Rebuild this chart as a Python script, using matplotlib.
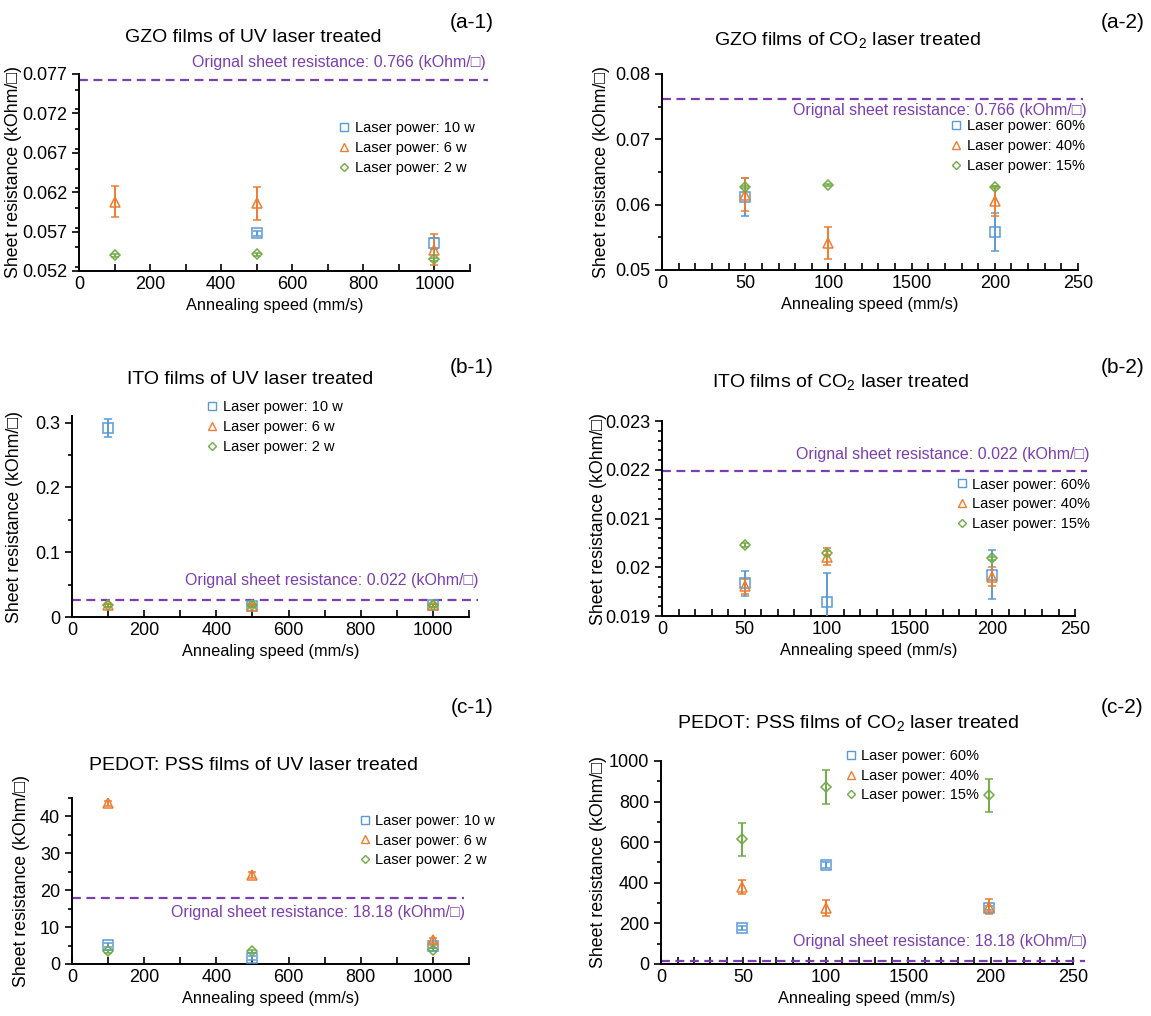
import numpy as np
import matplotlib
matplotlib.use('Agg')
import matplotlib.pyplot as plt
from matplotlib.ticker import MultipleLocator
from matplotlib.lines import Line2D

plt.rcParams['font.family'] = ['Liberation Sans', 'DejaVu Sans']
plt.rcParams['mathtext.fontset'] = 'custom'
plt.rcParams['mathtext.rm'] = 'Liberation Sans'
plt.rcParams['mathtext.it'] = 'Liberation Sans'

azul = '#5b9bd5'
naranja = '#ed7d31'
verde = '#70ad47'
morado = '#7b3fae'

# Datos de las velocidades
vel_uv = [100, 500, 1000]
vel_co2 = [50, 100, 200]
etiquetas_uv = ['Laser power: 10 w', 'Laser power: 6 w', 'Laser power: 2 w']
etiquetas_co2 = ['Laser power: 60%', 'Laser power: 40%', 'Laser power: 15%']
ticks_co2 = ['0', '50', '100', '1500', '200', '250']

# (a-1) GZO UV
gzo_uv_x = [[500, 1000], [100, 500, 1000], [100, 500, 1000]]
gzo_uv_y = [[0.0568, 0.0555], [0.0608, 0.0606, 0.0547], [0.0540, 0.0541, 0.0535]]
gzo_uv_e = [[0.0003, 0.0007], [0.0020, 0.0021, 0.0020], [0.0002, 0.0002, 0.0002]]
# (a-2) GZO CO2
gzo_co2_x = [[50, 200], [50, 100, 200], [50, 100, 200]]
gzo_co2_y = [[0.0611, 0.0558], [0.0615, 0.0541, 0.0605], [0.0627, 0.0630, 0.0627]]
gzo_co2_e = [[0.0029, 0.0029], [0.0025, 0.0024, 0.0023], [0.0002, 0.0002, 0.0002]]
# (b-1) ITO UV
ito_uv_x = [vel_uv, vel_uv, vel_uv]
ito_uv_y = [[0.292, 0.017, 0.018], [0.018, 0.017, 0.018], [0.018, 0.018, 0.018]]
ito_uv_e = [[0.014, 0.002, 0.002], [0.002, 0.002, 0.002], [0.002, 0.002, 0.002]]
# (b-2) ITO CO2
ito_co2_x = [vel_co2, vel_co2, vel_co2]
ito_co2_y = [[0.01967, 0.01929, 0.01985], [0.01961, 0.02022, 0.01981], [0.02045, 0.02030, 0.02018]]
ito_co2_e = [[0.00025, 0.0006, 0.0005], [0.00015, 0.00018, 0.00019], [0.00004, 0.00004, 0.00004]]
# (c-1) PEDOT:PSS UV
ped_uv_x = [vel_uv, vel_uv, vel_uv]
ped_uv_y = [[5.2, 1.6, 4.8], [43.6, 24.1, 6.4], [3.4, 3.4, 3.9]]
ped_uv_e = [[0.6, 0.6, 0.6], [0.7, 0.7, 0.7], [0.5, 0.5, 0.5]]
# (c-2) PEDOT:PSS CO2
ped_co2_x = [[49, 100, 199], [49, 100, 199], [49, 100, 199]]
ped_co2_y = [[177, 488, 278], [381, 275, 283], [614, 872, 831]]
ped_co2_e = [[8, 15, 10], [35, 38, 35], [82, 83, 82]]

# Resistencia original de cada película
r_gzo = 0.0762
r_ito = 0.0268
r_ito2 = 0.02197
r_ped = 17.9
r_ped2 = 13

fig = plt.figure(figsize=(11.51, 10.16), dpi=100)

colores = [azul, naranja, verde]
marcas = ['s', '^', 'D']
tam = [6.5, 6.5, 5]


def panel(pos, xs, ys, es, xlim, ylim, yticks, ylabels, ymin, ylab_x, co2=False):
    ax = fig.add_axes(pos)
    for i in range(3):
        ax.errorbar(xs[i], ys[i], yerr=es[i], fmt=marcas[i], mfc='none', mec=colores[i],
                    ms=tam[i], mew=1.1, ecolor=colores[i], elinewidth=1.4, capsize=3,
                    capthick=1.4, zorder=3)
    if co2:
        ax.set_xticks([0, 50, 100, 150, 200, 250])
        ax.set_xticklabels(ticks_co2)
        ax.xaxis.set_minor_locator(MultipleLocator(10))
    else:
        ax.set_xticks([0, 200, 400, 600, 800, 1000])
        ax.xaxis.set_minor_locator(MultipleLocator(100))
    ax.set_yticks(yticks)
    ax.set_yticklabels(ylabels)
    ax.yaxis.set_minor_locator(MultipleLocator(ymin))
    ax.set_xlim(xlim)
    ax.set_ylim(ylim)
    ax.spines['top'].set_visible(False)
    ax.spines['right'].set_visible(False)
    ax.spines['left'].set_linewidth(1.4)
    ax.spines['bottom'].set_linewidth(1.4)
    ax.tick_params(axis='x', which='both', direction='in', labelsize=13, width=1.2, length=5)
    ax.tick_params(axis='y', which='both', direction='out', labelsize=13, width=1.2)
    ax.tick_params(axis='y', which='major', length=5)
    ax.tick_params(axis='y', which='minor', length=3)
    ax.set_xlabel('Annealing speed (mm/s)', fontsize=11.8, labelpad=4)
    ax.set_ylabel('Sheet resistance (kOhm/□)', fontsize=12.8)
    ax.yaxis.set_label_coords(ylab_x, 0.5)
    return ax


def linea_original(ax, valor, xmax, texto, tx, ty):
    ax.axhline(valor, xmin=0, xmax=xmax, color=morado, ls=(0, (4, 2.5)), lw=1.6,
               clip_on=False, zorder=2)
    ax.text(tx, ty, texto, transform=ax.transAxes, ha='right', va='center',
            fontsize=11.5, color=morado)


def leyenda(ax, etiquetas, x, y):
    manijas = [Line2D([], [], ls='none', marker=marcas[i], mfc='none', mec=colores[i],
                      ms=tam[i] - 0.5, mew=1.0) for i in range(3)]
    ax.legend(manijas, etiquetas, loc='upper left', bbox_to_anchor=(x, y), frameon=False,
              fontsize=10.5, handletextpad=0.2, handlelength=1.0, labelspacing=0.4,
              borderaxespad=0, borderpad=0)


# (a-1)
ax = panel([0.0686, 0.7333, 0.3397, 0.1939], gzo_uv_x, gzo_uv_y, gzo_uv_e,
           (0, 1100), (0.052, 0.077), [0.052, 0.057, 0.062, 0.067, 0.072, 0.077],
           ['0.052', '0.057', '0.062', '0.067', '0.072', '0.077'], 0.0025, -0.146)
linea_original(ax, r_gzo, 1.045, 'Orignal sheet resistance: 0.766 (kOhm/□)', 1.04, 1.056)
leyenda(ax, etiquetas_uv, 0.66, 0.76)

# (a-2)
ax = panel([0.5752, 0.7343, 0.3614, 0.1929], gzo_co2_x, gzo_co2_y, gzo_co2_e,
           (0, 250), (0.05, 0.08), [0.05, 0.06, 0.07, 0.08],
           ['0.05', '0.06', '0.07', '0.08'], 0.005, -0.125, co2=True)
linea_original(ax, r_gzo, 1.012, 'Orignal sheet resistance: 0.766 (kOhm/□)', 1.02, 0.815)
leyenda(ax, etiquetas_co2, 0.69, 0.77)

# (b-1)
ax = panel([0.0626, 0.3927, 0.3449, 0.1978], ito_uv_x, ito_uv_y, ito_uv_e,
           (0, 1100), (0, 0.31), [0, 0.1, 0.2, 0.3], ['0', '0.1', '0.2', '0.3'], 0.05, -0.123)
linea_original(ax, r_ito, 1.023, 'Orignal sheet resistance: 0.022 (kOhm/□)', 1.025, 0.18)
leyenda(ax, etiquetas_uv, 0.335, 1.08)

# (b-2)
ax = panel([0.5752, 0.3937, 0.3588, 0.1919], ito_co2_x, ito_co2_y, ito_co2_e,
           (0, 250), (0.019, 0.023), [0.019, 0.020, 0.021, 0.022, 0.023],
           ['0.019', '0.02', '0.021', '0.022', '0.023'], 0.0002, -0.133, co2=True)
linea_original(ax, r_ito2, 1.03, 'Orignal sheet resistance: 0.022 (kOhm/□)', 1.034, 0.83)
leyenda(ax, etiquetas_co2, 0.709, 0.71)

# (c-1)
ax = panel([0.0626, 0.0512, 0.3449, 0.1634], ped_uv_x, ped_uv_y, ped_uv_e,
           (0, 1100), (0, 45), [0, 10, 20, 30, 40], ['0', '10', '20', '30', '40'], 5, -0.106)
linea_original(ax, r_ped, 0.987, 'Orignal sheet resistance: 18.18 (kOhm/□)', 0.99, 0.31)
leyenda(ax, etiquetas_uv, 0.72, 0.905)

# (c-2)
ax = panel([0.5743, 0.0512, 0.3580, 0.1998], ped_co2_x, ped_co2_y, ped_co2_e,
           (0, 250), (0, 1000), [0, 200, 400, 600, 800, 1000],
           ['0', '200', '400', '600', '800', '1000'], 100, -0.131, co2=True)
linea_original(ax, r_ped2, 1.03, 'Orignal sheet resistance: 18.18 (kOhm/□)', 1.034, 0.113)
leyenda(ax, etiquetas_co2, 0.444, 1.06)

# Títulos y etiquetas de panel
titulos = ['GZO films of UV laser treated', 'GZO films of CO$_2$ laser treated',
           'ITO films of UV laser treated', 'ITO films of CO$_2$ laser treated',
           'PEDOT: PSS films of UV laser treated', 'PEDOT: PSS films of CO$_2$ laser treated']
pos_titulos = [(0.22, 0.9626), (0.736, 0.9606), (0.217, 0.626), (0.730, 0.624),
               (0.22, 0.247), (0.737, 0.288)]
paneles = ['(a-1)', '(a-2)', '(b-1)', '(b-2)', '(c-1)', '(c-2)']
pos_paneles = [(0.41, 0.978), (0.975, 0.978), (0.41, 0.638), (0.975, 0.638),
               (0.41, 0.304), (0.975, 0.304)]
for t, p in zip(titulos, pos_titulos):
    fig.text(p[0], p[1], t, ha='center', va='center', fontsize=14)
for t, p in zip(paneles, pos_paneles):
    fig.text(p[0], p[1], t, ha='center', va='center', fontsize=15)

plt.savefig('out.png', dpi=100)
